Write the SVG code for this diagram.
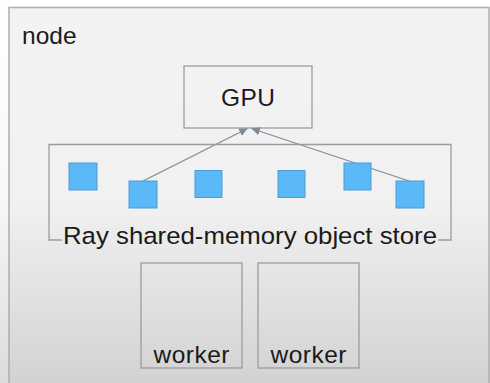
<svg xmlns="http://www.w3.org/2000/svg" width="490" height="383" viewBox="0 0 490 383">
  <defs>
    <linearGradient id="bg" x1="0" y1="0" x2="0" y2="1">
      <stop offset="0" stop-color="#ffffff"/>
      <stop offset="0.5" stop-color="#f8f8f8"/>
      <stop offset="1" stop-color="#dcdcdc"/>
    </linearGradient>
    <linearGradient id="boxbg" x1="0" y1="0" x2="0" y2="1">
      <stop offset="0" stop-color="#f3f3f3"/>
      <stop offset="0.5" stop-color="#f1f1f1"/>
      <stop offset="1" stop-color="#d0d0d0"/>
    </linearGradient>
    <marker id="arr" viewBox="0 0 10 10" refX="10" refY="5" markerWidth="6.5" markerHeight="6.5" orient="auto" markerUnits="strokeWidth">
      <path d="M0,0 L10,5 L0,10 Z" fill="#7f8b96"/>
    </marker>
    <style>
      .t { font-family: "Liberation Sans", Arial, sans-serif; font-size: 24.5px; fill: #1a1a1a; }
      .box { fill: none; stroke: #9c9c9c; stroke-width: 1.3; }
      .obj { fill: #5cb9f7; stroke: #4b9bd6; stroke-width: 1; }
      .conn { stroke: #7f8b96; stroke-width: 1.3; fill: none; }
    </style>
  </defs>
  <rect x="0" y="0" width="490" height="383" fill="url(#bg)"/>
  <g id="node">
    <rect x="9" y="7.5" width="480" height="390" fill="url(#boxbg)" stroke="#adadad" stroke-width="1.5"/>
    <text class="t" x="22" y="44">node</text>
  </g>
  <g id="gpu">
    <rect class="box" x="184" y="66" width="128" height="62"/>
    <text class="t" x="248" y="106" text-anchor="middle" textLength="54">GPU</text>
  </g>
  <g id="connectors">
    <line class="conn" x1="143" y1="181" x2="247.5" y2="128.5" marker-end="url(#arr)"/>
    <line class="conn" x1="409" y1="181" x2="251.5" y2="128.5" marker-end="url(#arr)"/>
  </g>
  <g id="store">
    <path class="box" d="M62,240 H49 V144.5 H451 V240 H438"/>
    <text class="t" x="63" y="244" textLength="374" lengthAdjust="spacingAndGlyphs">Ray shared-memory object store</text>
  </g>
  <g id="obj1"><rect class="obj" x="69" y="163" width="28" height="27"/></g>
  <g id="obj2"><rect class="obj" x="129" y="181" width="28" height="27"/></g>
  <g id="obj3"><rect class="obj" x="195" y="170.5" width="27" height="27"/></g>
  <g id="obj4"><rect class="obj" x="278" y="170.5" width="27" height="27"/></g>
  <g id="obj5"><rect class="obj" x="344" y="163" width="27" height="27"/></g>
  <g id="obj6"><rect class="obj" x="396" y="181" width="28" height="27"/></g>
  <g id="worker1">
    <rect class="box" x="141" y="263" width="101" height="105"/>
    <text class="t" x="191.5" y="363" text-anchor="middle" textLength="76">worker</text>
  </g>
  <g id="worker2">
    <rect class="box" x="258" y="263" width="101" height="105"/>
    <text class="t" x="308.5" y="363" text-anchor="middle" textLength="76">worker</text>
  </g>
</svg>
